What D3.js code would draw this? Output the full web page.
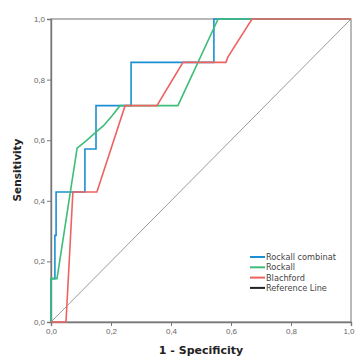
<!DOCTYPE html>
<html>
<head>
<meta charset="utf-8">
<script src="https://cdn.jsdelivr.net/npm/d3@7"></script>
<style>
body { margin: 0; background: #fff; }
</style>
</head>
<body>
<div id="canvas"></div>
<script>
// ----------------------------------------------------------
// DATA -----------------------------------------------------
// ----------------------------------------------------------
var series_names = ["Rockall combinat", "Rockall", "Blachford", "Reference Line"];

var fpr_combinat = [0, 0, 0.013, 0.013, 0.017, 0.017, 0.113, 0.113, 0.15, 0.15, 0.267, 0.267, 0.543, 0.543, 1];
var tpr_combinat = [0, 0.143, 0.143, 0.286, 0.286, 0.429, 0.429, 0.571, 0.571, 0.714, 0.714, 0.857, 0.857, 1, 1];

var fpr_rockall = [0, 0, 0.02, 0.087, 0.117, 0.147, 0.175, 0.205, 0.23, 0.423, 0.557, 1];
var tpr_rockall = [0, 0.143, 0.143, 0.574, 0.598, 0.624, 0.648, 0.682, 0.714, 0.714, 1, 1];

var fpr_blachford = [0, 0.05, 0.073, 0.153, 0.247, 0.353, 0.44, 0.583, 0.59, 0.67, 1];
var tpr_blachford = [0, 0, 0.429, 0.429, 0.714, 0.714, 0.857, 0.857, 0.875, 1, 1];

var fpr_reference = [0, 1];
var tpr_reference = [0, 1];

var tick_values = [0, 0.2, 0.4, 0.6, 0.8, 1.0];
var tick_labels = ["0,0", "0,2", "0,4", "0,6", "0,8", "1,0"];

var colors = ["#1b8fd2", "#3dbd78", "#ee6262", "#222"];

// ----------------------------------------------------------
// STRUCTURE ------------------------------------------------
// ----------------------------------------------------------
var W = 355, H = 360;
var plot = { left: 51, top: 19, right: 351, bottom: 322 };

var svg = d3.select("#canvas").append("svg")
  .attr("width", W)
  .attr("height", H)
  .style("font-family", "'DejaVu Sans', sans-serif");

var x = d3.scaleLinear().domain([0, 1]).range([plot.left, plot.right]);
var y = d3.scaleLinear().domain([0, 1]).range([plot.bottom, plot.top]);

// frame
svg.append("rect")
  .attr("x", plot.left).attr("y", plot.top)
  .attr("width", plot.right - plot.left).attr("height", plot.bottom - plot.top)
  .attr("fill", "#fff").attr("stroke", "#8a8a8a").attr("stroke-width", 1.2);

// ----------------------------------------------------------
// AXES -----------------------------------------------------
// ----------------------------------------------------------
var xAxis = svg.append("g")
  .attr("transform", `translate(0, ${plot.bottom})`)
  .call(d3.axisBottom(x).tickValues(tick_values).tickSize(4).tickPadding(2)
    .tickFormat((d, i) => tick_labels[i]));

var yAxis = svg.append("g")
  .attr("transform", `translate(${plot.left}, 0)`)
  .call(d3.axisLeft(y).tickValues(tick_values).tickSize(4).tickPadding(2)
    .tickFormat((d, i) => tick_labels[i]));

[xAxis, yAxis].forEach(function (a) {
  a.select(".domain").attr("stroke", "#777").attr("stroke-width", 1.4);
  a.selectAll(".tick line").attr("stroke", "#777");
  a.selectAll(".tick text").attr("fill", "#666").style("font-size", "8px");
});

// last x label sits at the right edge, keep it inside the page
xAxis.selectAll(".tick text").filter(d => d === 1)
  .attr("text-anchor", "end").attr("dx", "3");

svg.append("text")
  .attr("x", 201).attr("y", 354)
  .attr("text-anchor", "middle")
  .style("font-size", "11px").style("font-weight", "bold")
  .attr("fill", "#222")
  .text("1 - Specificity");

svg.append("text")
  .attr("transform", "translate(21, 170) rotate(-90)")
  .attr("text-anchor", "middle")
  .style("font-size", "10.5px").style("font-weight", "bold")
  .attr("fill", "#222")
  .text("Sensitivity");

// ----------------------------------------------------------
// GFX ------------------------------------------------------
// ----------------------------------------------------------
var line = d3.line().x(d => x(d[0])).y(d => y(d[1]));

function pairs(fx, ty) { return fx.map((v, i) => [v, ty[i]]); }

svg.append("path")
  .datum(pairs(fpr_reference, tpr_reference))
  .attr("d", line).attr("fill", "none")
  .attr("stroke", "#8f8f8f").attr("stroke-width", 0.9);

var curves = [
  pairs(fpr_combinat, tpr_combinat),
  pairs(fpr_rockall, tpr_rockall),
  pairs(fpr_blachford, tpr_blachford)
];

curves.forEach(function (c, i) {
  svg.append("path")
    .datum(c)
    .attr("d", line).attr("fill", "none")
    .attr("stroke", colors[i]).attr("stroke-width", 1.6);
});

// ----------------------------------------------------------
// LEGEND ---------------------------------------------------
// ----------------------------------------------------------
var legend = svg.append("g").attr("transform", "translate(250, 257)");

var item = legend.selectAll("g").data(series_names).enter().append("g")
  .attr("transform", (d, i) => `translate(0, ${i * 10.3})`);

item.append("line")
  .attr("x1", 0).attr("x2", 15).attr("y1", 0).attr("y2", 0)
  .attr("stroke", (d, i) => colors[i]).attr("stroke-width", 2);

item.append("text")
  .attr("x", 16).attr("y", 3)
  .style("font-size", "8.2px").attr("fill", "#444")
  .text(d => d);
</script>
</body>
</html>
